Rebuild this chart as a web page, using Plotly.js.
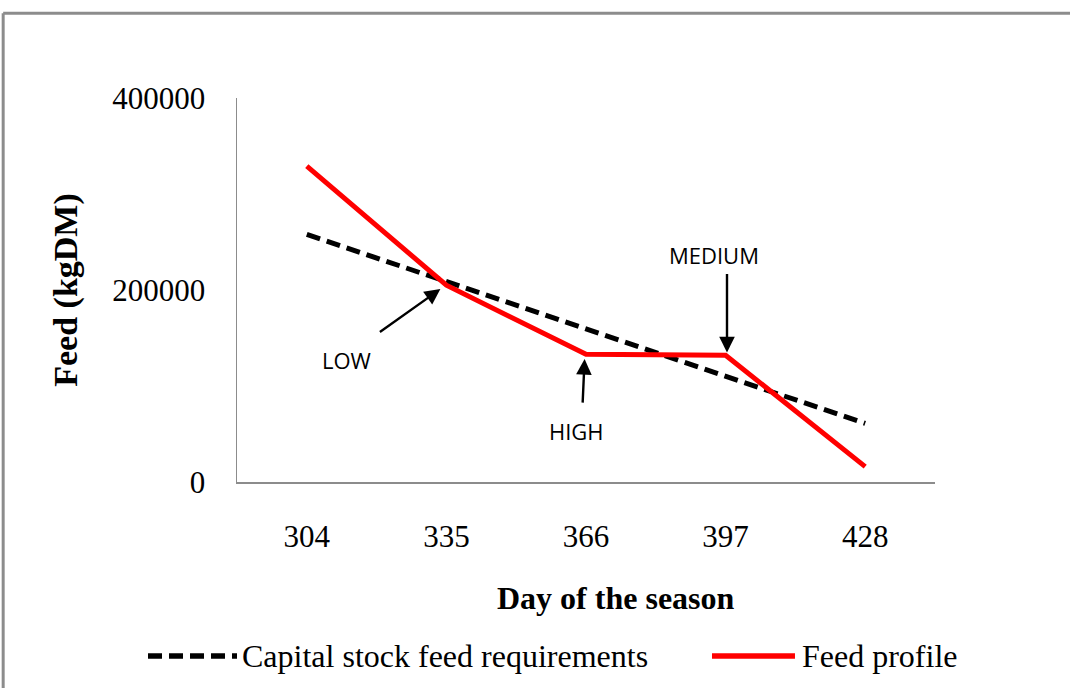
<!DOCTYPE html>
<html>
<head>
<meta charset="utf-8">
<script src="https://cdn.plot.ly/plotly-3.0.1.min.js"></script>
<style>
  html, body { margin: 0; padding: 0; background: #fff; }
  #chart { width: 1070px; height: 688px; }
</style>
</head>
<body>
<div id="chart"></div>
<script>
const days = ["304", "335", "366", "397", "428"];
const capitalStockFeed = [258000, 209000, 160000, 110000, 61000];
const feedProfile = [329000, 205000, 133000, 132000, 16000];
const seriesNames = ["Capital stock feed requirements", "Feed profile"];
const seriesColors = ["#000000", "#ff0000"];
const seriesDash = ["14px,7px", "solid"];
const yTicks = [0, 200000, 400000];
const xTitle = "Day of the season";
const yTitle = "Feed (kgDM)";
const pointLabels = ["LOW", "HIGH", "MEDIUM"];

const serif = "Liberation Serif, Times New Roman, serif";
const sans = "Open Sans, Noto Sans, sans-serif";

const traces = [capitalStockFeed, feedProfile].map((vals, i) => ({
  x: days, y: vals, name: seriesNames[i],
  type: "scatter", mode: "lines",
  line: { color: seriesColors[i], width: 5, dash: seriesDash[i] },
  showlegend: false
}));

const arrowStyle = { showarrow: true, arrowhead: 2, arrowsize: 1.3, arrowwidth: 2.4, arrowcolor: "#000", text: "" };
const labelFont = { family: sans, size: 22, color: "#000" };

// legend drawn by hand (wide line samples as in the reference)
const legendY = -0.453;
const legendShapes = [
  { type: "line", xref: "paper", yref: "paper", x0: -0.1275, x1: 0, y0: legendY, y1: legendY,
    line: { color: seriesColors[0], width: 5.5, dash: seriesDash[0] } },
  { type: "line", xref: "paper", yref: "paper", x0: 0.6805, x1: 0.7994, y0: legendY, y1: legendY,
    line: { color: seriesColors[1], width: 5.5 } }
];
const legendTexts = [
  { xref: "paper", yref: "paper", x: 0.0043, y: legendY, xanchor: "left", yanchor: "middle",
    text: seriesNames[0], showarrow: false, font: { family: serif, size: 32, color: "#000" } },
  { xref: "paper", yref: "paper", x: 0.8066, y: legendY, xanchor: "left", yanchor: "middle",
    text: seriesNames[1], showarrow: false, font: { family: serif, size: 32, color: "#000" } }
];

const layout = {
  width: 1070, height: 688,
  margin: { l: 237, r: 135, t: 98, b: 206 },
  paper_bgcolor: "#fff", plot_bgcolor: "#fff",
  showlegend: false,
  xaxis: {
    type: "category", range: [-0.5, 4.5],
    showline: true, linecolor: "#8c8c8c", linewidth: 1.5,
    showgrid: false, zeroline: false, ticks: "",
    ticklabelstandoff: 26,
    tickfont: { family: serif, size: 31, color: "#000" }
  },
  yaxis: {
    range: [0, 400000], tickvals: yTicks, tickformat: "d",
    showline: true, linecolor: "#8c8c8c", linewidth: 1.5,
    showgrid: false, zeroline: false, ticks: "",
    ticklabelstandoff: 24,
    tickfont: { family: serif, size: 31, color: "#000" },
    title: { text: yTitle, font: { family: serif, size: 34, color: "#000", weight: "bold" }, standoff: 24 }
  },
  shapes: [
    { type: "line", xref: "paper", yref: "paper", x0: -0.335, x1: 1.2, y0: 1.221, y1: 1.221, line: { color: "#8c8c8c", width: 3 } },
    { type: "line", xref: "paper", yref: "paper", x0: -0.335, x1: -0.335, y0: 1.221, y1: -0.6, line: { color: "#8c8c8c", width: 3 } }
  ].concat(legendShapes),
  annotations: [
    Object.assign({}, arrowStyle, { xref: "x", yref: "y", x: 0.957, y: 201000, ax: -62, ay: 44 }),
    Object.assign({}, arrowStyle, { xref: "x", yref: "y", x: 1.99, y: 128000, ax: -2, ay: 45 }),
    Object.assign({}, arrowStyle, { xref: "x", yref: "y", x: 3.01, y: 135000, ax: 0, ay: -80 }),
    { xref: "x", yref: "y", x: 0.286, y: 127000, text: pointLabels[0], showarrow: false, font: labelFont },
    { xref: "x", yref: "y", x: 1.929, y: 53000, text: pointLabels[1], showarrow: false, font: labelFont },
    { xref: "x", yref: "y", x: 2.914, y: 236000, text: pointLabels[2], showarrow: false, font: labelFont },
    { xref: "paper", yref: "paper", x: 0.543, y: -0.302, xanchor: "center", yanchor: "middle",
      text: "<b>" + xTitle + "</b>", showarrow: false, font: { family: serif, size: 32, color: "#000" } }
  ].concat(legendTexts)
};

Plotly.newPlot("chart", traces, layout, { displayModeBar: false, staticPlot: true });
</script>
</body>
</html>
